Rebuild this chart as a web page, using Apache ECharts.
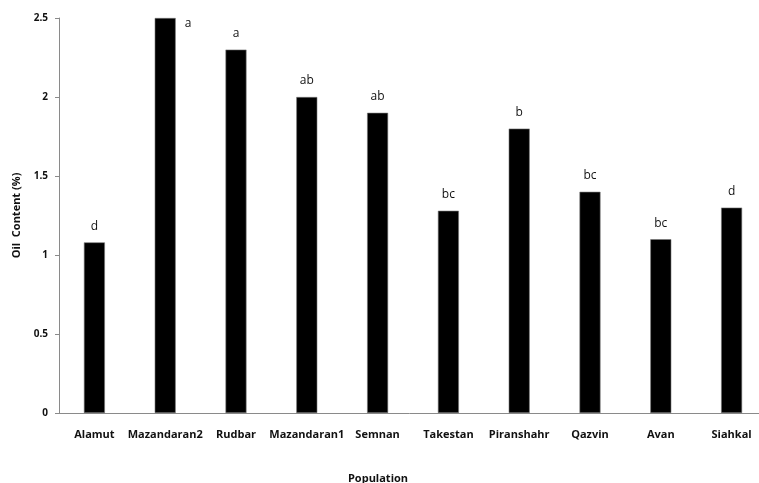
<!DOCTYPE html>
<html>
<head>
<meta charset="utf-8">
<script src="https://cdn.jsdelivr.net/npm/echarts@6/dist/echarts.min.js"></script>
<style>
  html, body { margin: 0; padding: 0; background: #fff; }
  #chart { width: 759px; height: 483px; }
</style>
</head>
<body>
<div id="chart"></div>
<script>
// Oil content by population, with mean-separation letters
const populations = ['Alamut', 'Mazandaran2', 'Rudbar', 'Mazandaran1', 'Semnan',
                     'Takestan', 'Piranshahr', 'Qazvin', 'Avan', 'Siahkal'];
const oilContent = [1.08, 2.5, 2.3, 2.0, 1.9, 1.28, 1.8, 1.4, 1.1, 1.3];
const groupLetters = ['d', 'a', 'a', 'ab', 'ab', 'bc', 'b', 'bc', 'bc', 'd'];
const yTicks = [0, 0.5, 1, 1.5, 2, 2.5];

const chart = echarts.init(document.getElementById('chart'));

const barData = oilContent.map((v, i) => {
  const item = { value: v, label: { formatter: groupLetters[i] } };
  // the tallest bar touches the top of the plot, so its letter sits beside it
  if (v === Math.max(...oilContent)) {
    item.label.position = ['100%', 0];
    item.label.offset = [9, 0];
    item.label.align = 'left';
    item.label.verticalAlign = 'top';
  }
  return item;
});

chart.setOption({
  animation: false,
  backgroundColor: '#ffffff',
  grid: { left: 59, top: 18, width: 708, height: 395, containLabel: false, outerBoundsMode: 'none' },
  xAxis: {
    type: 'category',
    data: populations,
    name: 'Population',
    nameLocation: 'middle',
    nameGap: 60,
    nameTextStyle: { fontFamily: 'Open Sans', fontWeight: 'bold', fontSize: 11, color: '#111', padding: [0, 70, 0, 0] },
    axisLine: { lineStyle: { color: '#8a8a8a', width: 1 } },
    axisTick: { show: false },
    axisLabel: { fontFamily: 'Open Sans', fontWeight: 'bold', fontSize: 11, color: '#111', margin: 16, interval: 0 },
    splitLine: { show: false }
  },
  yAxis: {
    type: 'value',
    min: yTicks[0],
    max: yTicks[yTicks.length - 1],
    interval: 0.5,
    name: 'Oil  Content (%)',
    nameLocation: 'middle',
    nameGap: 35,
    nameRotate: 90,
    nameTextStyle: { fontFamily: 'Open Sans', fontWeight: 'bold', fontSize: 11, color: '#111' },
    axisLine: { show: true, lineStyle: { color: '#8a8a8a', width: 1 } },
    axisTick: { show: true, length: 4, lineStyle: { color: '#8a8a8a' } },
    axisLabel: { fontFamily: 'Open Sans', fontWeight: 'bold', fontSize: 10, color: '#111', margin: 11 },
    splitLine: { show: false }
  },
  series: [{
    type: 'bar',
    data: barData,
    barWidth: 21,
    itemStyle: { color: '#000', borderColor: '#777', borderWidth: 0.6 },
    label: {
      show: true,
      position: 'top',
      distance: 10,
      fontFamily: 'Open Sans',
      fontSize: 12,
      color: '#111'
    }
  }]
});
</script>
</body>
</html>
